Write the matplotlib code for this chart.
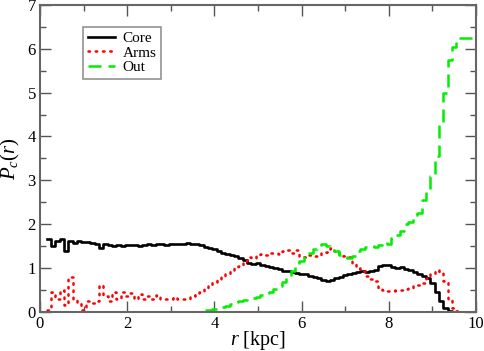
import numpy as np
import matplotlib
matplotlib.use("Agg")
import matplotlib.pyplot as plt

# bin left edges (kpc), bin width 0.1
r_start = 0.15
bin_width = 0.1

core = [1.65, 1.50, 1.62, 1.65, 1.38, 1.62, 1.57, 1.62, 1.60, 1.58,
        1.57, 1.55, 1.45, 1.55, 1.52, 1.50, 1.53, 1.50, 1.52, 1.53,
        1.52, 1.50, 1.53, 1.54, 1.53, 1.55, 1.54, 1.53, 1.55, 1.54,
        1.55, 1.54, 1.57, 1.55, 1.54, 1.52, 1.48, 1.45, 1.42, 1.38,
        1.35, 1.32, 1.30, 1.26, 1.22, 1.17, 1.12, 1.10, 1.12, 1.07,
        1.04, 1.02, 1.00, 0.97, 0.94, 0.92, 0.90, 0.88, 0.87, 0.85,
        0.82, 0.79, 0.76, 0.73, 0.71, 0.72, 0.76, 0.80, 0.84, 0.85,
        0.88, 0.90, 0.92, 0.90, 0.92, 0.95, 1.04, 1.07, 1.06, 1.03,
        1.00, 1.02, 0.98, 0.95, 0.90, 0.86, 0.82, 0.78, 0.65, 0.45,
        0.25, 0.08, 0.01, 0.0, 0.0, 0.0, 0.0, 0.0, 0.0]

arms = [0.05, 0.45, 0.30, 0.50, 0.15, 0.80, 0.30, 0.20, 0.05, 0.25,
        0.20, 0.25, 0.60, 0.35, 0.25, 0.45, 0.30, 0.45, 0.35, 0.42,
        0.30, 0.40, 0.28, 0.35, 0.30, 0.38, 0.30, 0.28, 0.30, 0.33,
        0.30, 0.28, 0.30, 0.35, 0.40, 0.45, 0.55, 0.60, 0.68, 0.75,
        0.80, 0.86, 0.92, 1.00, 1.05, 1.15, 1.24, 1.22, 1.30, 1.32,
        1.30, 1.33, 1.35, 1.32, 1.38, 1.40, 1.35, 1.40, 1.28, 1.25,
        1.30, 1.28, 1.30, 1.34, 1.36, 1.45, 1.38, 1.32, 1.28, 1.24,
        1.12, 1.00, 0.94, 0.82, 0.75, 0.70, 0.55, 0.50, 0.48, 0.48,
        0.50, 0.50, 0.52, 0.55, 0.58, 0.60, 0.65, 0.78, 0.85, 0.95,
        0.90, 0.70, 0.30, 0.08, 0.01, 0.0, 0.0, 0.0, 0.0]

out = [0.0] * 35 + [
        0.02, 0.03, 0.05, 0.07, 0.09, 0.11, 0.13, 0.18, 0.22, 0.24,
        0.26, 0.28, 0.31, 0.34, 0.38, 0.42, 0.46, 0.52, 0.58, 0.68,
        0.80, 0.92, 1.05, 1.15, 1.25, 1.35, 1.42, 1.48, 1.55, 1.50,
        1.45, 1.38, 1.30, 1.25, 1.22, 1.28, 1.38, 1.42, 1.47, 1.50,
        1.48, 1.53, 1.58, 1.55, 1.68, 1.74, 1.85, 2.00, 2.05, 2.20,
        2.25, 2.55, 2.75, 3.10, 3.55, 4.30, 5.00, 5.75, 6.05, 6.25,
        6.25, 6.25, 6.25, 6.25]

series_labels = ["Core", "Arms", "Out"]
x_ticks = [0, 2, 4, 6, 8, 10]
y_ticks = [0, 1, 2, 3, 4, 5, 6, 7]

plt.rcParams['font.family'] = ['Liberation Serif', 'DejaVu Serif']
plt.rcParams['mathtext.fontset'] = 'custom'
plt.rcParams['mathtext.it'] = 'Liberation Serif:italic'
plt.rcParams['mathtext.rm'] = 'Liberation Serif'

fig = plt.figure(figsize=(4.85, 3.51), dpi=100)
ax = fig.add_axes([40 / 485, 1 - 311.7 / 351, 436 / 485, 306.7 / 351])

n = len(core)
edges = r_start + bin_width * np.arange(n + 1)
edges[-1] = min(edges[-1], 10.0)

def stepxy(vals):
    v = np.asarray(vals, dtype=float)
    return edges, np.append(v, v[-1])

x, y = stepxy(core)
ax.step(x, y, where='post', color='black', lw=1.9, label=series_labels[0])
x, y = stepxy(arms)
ax.step(x, y, where='post', color='red', lw=1.8, linestyle=(0, (0.6, 2.3)),
        dash_capstyle='round', label=series_labels[1])
x, y = stepxy(out)
ax.step(x, y, where='post', color='#00ee00', lw=1.8, linestyle=(0, (5.2, 2.8)),
        label=series_labels[2])

ax.set_xlim(0, 10)
ax.set_ylim(0, 7)
ax.set_xticks(x_ticks)
ax.set_yticks(y_ticks)
ax.set_xticks(np.arange(1, 10, 2), minor=True)
ax.set_yticks(np.arange(0.5, 7, 1), minor=True)
ax.tick_params(which='both', direction='in', top=True, right=True,
               labelsize=12, color='#555555', width=1)
ax.tick_params(which='major', length=8, pad=3)
ax.tick_params(which='minor', length=4)
for s in ax.spines.values():
    s.set_color('#666666')
    s.set_linewidth(1.5)

ax.set_xlabel(r'$r$ [kpc]', fontsize=14.5, labelpad=-2)
ax.set_ylabel(r'$P_c(r)$', fontsize=15, labelpad=4)

leg = ax.legend(loc='upper left', bbox_to_anchor=(0.0986, 0.928), fontsize=11,
                frameon=True, fancybox=False, handlelength=1.8,
                borderpad=0.3, labelspacing=0.05, handletextpad=0.5,
                borderaxespad=0)
leg.get_frame().set_edgecolor('#777777')
leg.get_frame().set_linewidth(1.2)

fig.savefig('out.png', dpi=100)
